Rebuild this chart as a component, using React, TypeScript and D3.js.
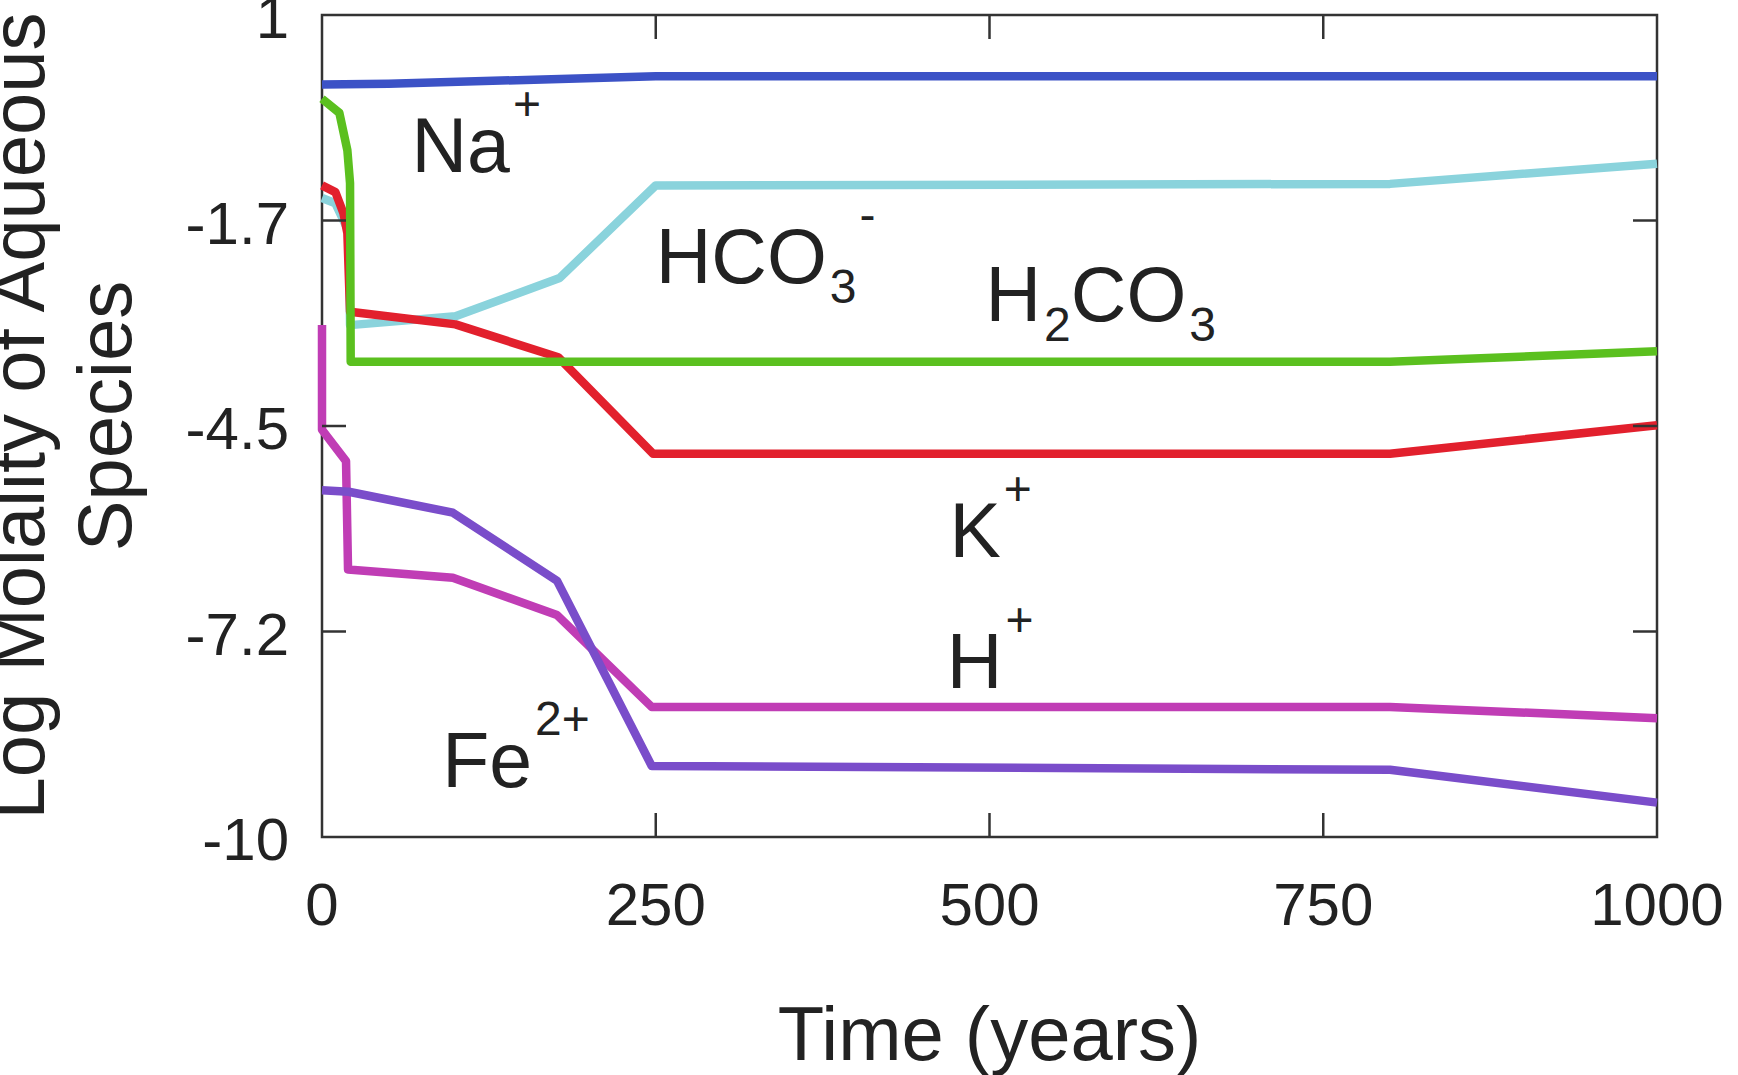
import React from "react";
import * as d3 from "d3";

// ---------- data ----------
const naTime = [0, 50, 250, 800, 1000];
const naLogM = [0.07, 0.08, 0.18, 0.18, 0.18];

const hco3Time = [0, 10, 20, 21, 100, 178, 250, 800, 1000];
const hco3LogM = [-1.45, -1.52, -1.9, -3.15, -3.03, -2.52, -1.28, -1.26, -0.99];

const kTime = [0, 10, 16, 19, 21, 100, 177, 248, 800, 1000];
const kLogM = [-1.28, -1.37, -1.65, -1.92, -2.97, -3.14, -3.58, -4.87, -4.87, -4.49];

const h2co3Time = [0, 13, 19, 21, 21.5, 800, 1000];
const h2co3LogM = [-0.12, -0.31, -0.81, -1.25, -3.64, -3.64, -3.5];

const hTime = [0, 0, 18, 19.5, 98, 176, 247, 800, 1000];
const hLogM = [-3.15, -4.55, -4.97, -6.42, -6.53, -7.03, -8.26, -8.26, -8.41];

const feTime = [0, 20, 98, 176, 247, 800, 1000];
const feLogM = [-5.36, -5.38, -5.66, -6.57, -9.05, -9.1, -9.54];

const xTickValues = [0, 250, 500, 750, 1000];
const xTickLabels = ["0", "250", "500", "750", "1000"];
const yTickValues = [1, -1.75, -4.5, -7.25, -10];
const yTickLabels = ["1", "-1.7", "-4.5", "-7.2", "-10"];

// ---------- layout / style ----------
const W = 1738;
const H = 1075;
const M = { left: 322, right: 1657, top: 15, bottom: 837 };
const FONT = "'Liberation Sans', Arial, Helvetica, sans-serif";

const series = [
  { t: naTime, v: naLogM, color: "#3c52c6" },
  { t: hco3Time, v: hco3LogM, color: "#8ad3dc" },
  { t: kTime, v: kLogM, color: "#e2202d" },
  { t: h2co3Time, v: h2co3LogM, color: "#5bc01f" },
  { t: hTime, v: hLogM, color: "#c03db5" },
  { t: feTime, v: feLogM, color: "#7a4dca" },
];

type Part = { s: string; kind?: "sub" | "sup" };
const annotations: { t: number; v: number; parts: Part[] }[] = [
  { t: 67, v: -1.1, parts: [{ s: "Na" }, { s: "+", kind: "sup" }] },
  { t: 250, v: -2.59, parts: [{ s: "HCO" }, { s: "3", kind: "sub" }, { s: "-", kind: "sup" }] },
  { t: 497, v: -3.1, parts: [{ s: "H" }, { s: "2", kind: "sub" }, { s: "CO" }, { s: "3", kind: "sub" }] },
  { t: 470, v: -6.25, parts: [{ s: "K" }, { s: "+", kind: "sup" }] },
  { t: 468, v: -8.0, parts: [{ s: "H" }, { s: "+", kind: "sup" }] },
  { t: 90, v: -9.33, parts: [{ s: "Fe" }, { s: "2+", kind: "sup" }] },
];

export default function App() {
  const x = d3.scaleLinear().domain([0, 1000]).range([M.left, M.right]);
  const y = d3.scaleLinear().domain([-10, 1]).range([M.bottom, M.top]);
  const line = d3
    .line<[number, number]>()
    .x((d) => x(d[0]))
    .y((d) => y(d[1]));

  const TL = 24; // tick length (inward)
  const axisColor = "#333";

  const renderParts = (parts: Part[]) => {
    let level = 0; // current baseline offset
    return parts.map((p, i) => {
      const target = p.kind === "sub" ? 20 : p.kind === "sup" ? -52 : 0;
      const dy = target - level;
      level = target;
      return (
        <tspan
          key={i}
          dy={dy}
          dx={p.kind ? 3 : 0}
          fontSize={p.kind ? 48 : 77}
        >
          {p.s}
        </tspan>
      );
    });
  };

  return (
    <svg
      width={W}
      height={H}
      style={{ position: "absolute", left: 0, top: 0, display: "block", background: "#fff" }}
      fontFamily={FONT}
    >
      <rect x={0} y={0} width={W} height={H} fill="#fff" />
      {/* frame */}
      <rect
        x={M.left}
        y={M.top}
        width={M.right - M.left}
        height={M.bottom - M.top}
        fill="none"
        stroke={axisColor}
        strokeWidth={2.5}
      />
      {/* series */}
      {series.map((s, i) => (
        <path
          key={i}
          d={line(s.t.map((t, j) => [t, s.v[j]] as [number, number])) || ""}
          fill="none"
          stroke={s.color}
          strokeWidth={8.5}
          strokeLinejoin="round"
          strokeLinecap="butt"
        />
      ))}
      {/* ticks */}
      {xTickValues.slice(1, -1).map((t) => (
        <g key={"xt" + t} stroke={axisColor} strokeWidth={2.5}>
          <line x1={x(t)} x2={x(t)} y1={M.bottom} y2={M.bottom - TL} />
          <line x1={x(t)} x2={x(t)} y1={M.top} y2={M.top + TL} />
        </g>
      ))}
      {yTickValues.slice(1, -1).map((v) => (
        <g key={"yt" + v} stroke={axisColor} strokeWidth={2.5}>
          <line x1={M.left} x2={M.left + TL} y1={y(v)} y2={y(v)} />
          <line x1={M.right} x2={M.right - TL} y1={y(v)} y2={y(v)} />
        </g>
      ))}
      {/* tick labels */}
      {xTickValues.map((t, i) => (
        <text key={"xl" + t} x={x(t)} y={925} fontSize={60} textAnchor="middle" fill="#222">
          {xTickLabels[i]}
        </text>
      ))}
      {yTickValues.map((v, i) => (
        <text key={"yl" + v} x={289} y={y(v) + 23} fontSize={60} textAnchor="end" fill="#222">
          {yTickLabels[i]}
        </text>
      ))}
      {/* axis titles */}
      <text x={(M.left + M.right) / 2} y={1060} fontSize={76} textAnchor="middle" fill="#222">
        Time (years)
      </text>
      <text transform={`translate(44,416) rotate(-90)`} fontSize={76} textAnchor="middle" fill="#222">
        Log Molality of Aqueous
      </text>
      <text transform={`translate(131,416) rotate(-90)`} fontSize={76} textAnchor="middle" fill="#222">
        Species
      </text>
      {/* species labels */}
      {annotations.map((a, i) => (
        <text key={"an" + i} x={x(a.t)} y={y(a.v)} fontSize={77} fill="#222">
          {renderParts(a.parts)}
        </text>
      ))}
    </svg>
  );
}
